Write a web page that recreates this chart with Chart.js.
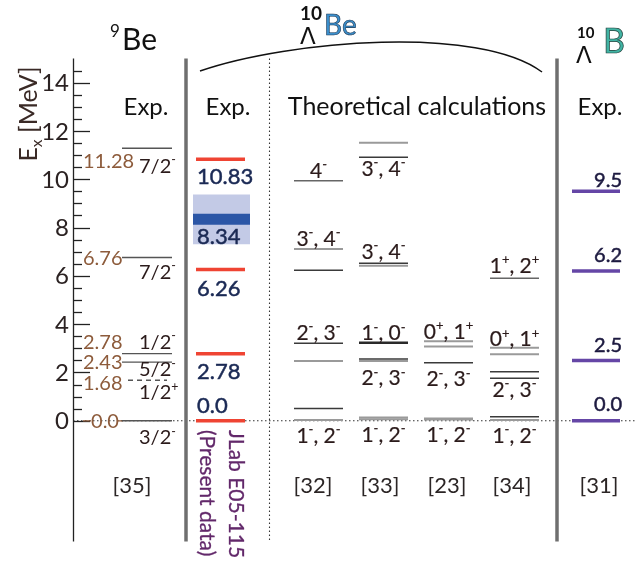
<!DOCTYPE html>
<html>
<head>
<meta charset="utf-8">
<script src="https://cdn.jsdelivr.net/npm/chart.js@4"></script>
<style>
  html, body { margin: 0; padding: 0; background: #fff; }
  canvas { display: block; }
</style>
</head>
<body>
<canvas id="levels" width="636" height="579"></canvas>
<script>
// ---------- data (excitation energies in MeV) ----------
// 9Be experiment [35]
const be9Energies = [0.0, 1.68, 2.43, 2.78, 6.76, 11.28];
const be9EnergyText = ['0.0', '1.68', '2.43', '2.78', '6.76', '11.28'];
const be9Spins = ['3/2^-', '1/2^+', '5/2^-', '1/2^-', '7/2^-', '7/2^-'];

// 10ΛBe, JLab E05-115 (present data)
const jlabEnergies = [0.0, 2.78, 6.26, 10.83];
const jlabText = ['0.0', '2.78', '6.26', '10.83'];
const jlabBroadPeak = [8.34];
const jlabBroadRange = [7.31, 9.37];

// 10ΛBe theoretical calculations
const theoryRefs = ['[32]', '[33]', '[23]', '[34]'];
const theoryEnergies = [
  [0.03, 0.51, 2.48, 3.21, 6.23, 7.11, 9.94],
  [0.06, 0.14, 2.48, 2.56, 3.23, 6.42, 6.52, 10.91, 11.51],
  [0.07, 2.40, 3.08, 3.29],
  [0.03, 0.17, 1.76, 2.03, 2.75, 3.02, 5.90]
];
const theoryLabelText = [
  ['1^-, 2^-', '2^-, 3^-', '3^-, 4^-', '4^-'],
  ['1^-, 2^-', '2^-, 3^-', '1^-, 0^-', '3^-, 4^-', '3^-, 4^-'],
  ['1^-, 2^-', '2^-, 3^-', '0^+, 1^+'],
  ['1^-, 2^-', '2^-, 3^-', '0^+, 1^+', '1^+, 2^+']
];
const theoryLabelAt = [
  [0.03, 3.21, 7.11, 9.94],
  [0.06, 2.48, 3.23, 6.52, 10.91],
  [0.07, 2.40, 3.29],
  [0.03, 1.76, 3.02, 5.90]
];

// 10ΛB experiment [31]
const b10Energies = [0.0, 2.5, 6.2, 9.5];
const b10Text = ['0.0', '2.5', '6.2', '9.5'];

// energy axis
const axisTicks = [0, 2, 4, 6, 8, 10, 12, 14];

// ---------- layout / style ----------
const span = {
  be9: [122, 172], jlab: [196, 245], band: [193, 250], b10: [572, 620],
  theory: [[294, 343], [359, 408], [424, 473], [490, 539]]
};
const theoryTone = [
  ['g', 'd', 'g', 'd', 'd', 'g', 'm'],
  ['g', 'g', 'g', 'd', 'D', 'g', 'd', 'd', 'g'],
  ['G', 'd', 'g', 'g'],
  ['g', 'd', 'd', 'd', 'g', 'g', 'm']
];
const toneStyle = {
  d: ['#3a3a3a', 1.4], D: ['#2a2a2a', 2.4], g: ['#9a9a9a', 2], G: ['#9a9a9a', 3], m: ['#666', 1.6]
};
const theoryLabelDy = [
  [15, -11, -11, -10],
  [15, 17, -10, -12, 11],
  [15, 16, -10],
  [15, 11, -9, -13]
];
const be9ValueDy = [0, 3, 0, -12, 0, 12];
const be9SpinDy = [16, 12, 7, -12, 14, 17];
const jlabDy = [-16, 17, 19, 17];
const b10Dy = [-17, -16, -16, -12];
const refX = [132, 313, 380, 447, 512, 599];

const FONT = 'Lato, "Noto Sans", sans-serif';
const GREEK = '"DejaVu Sans", "Noto Sans", sans-serif';
const font = (s, w) => `${w || 'normal'} ${s}px ${FONT}`;

function levelSet(e, sp, color, width, dash) {
  return {
    data: [{ x: sp[0], y: e }, { x: sp[1], y: e }],
    borderColor: color, borderWidth: width, borderDash: dash || [],
    pointRadius: 0, fill: false, tension: 0, order: 1
  };
}

const datasets = [];
be9Energies.forEach(e => {
  datasets.push(levelSet(e, e === 1.68 ? [128, 167] : span.be9, '#555', 1.4, e === 1.68 ? [5, 4] : []));
});
datasets.push({
  data: [{ x: span.band[0], y: jlabBroadRange[1] }, { x: span.band[1], y: jlabBroadRange[1] }],
  fill: { value: jlabBroadRange[0] }, backgroundColor: '#c3cae6',
  borderWidth: 0, pointRadius: 0, order: 5
});
jlabBroadPeak.forEach(e => datasets.push(levelSet(e, span.band, '#2b56a6', 11)));
jlabEnergies.forEach(e => datasets.push(levelSet(e, span.jlab, '#ef4433', 3.5)));
theoryEnergies.forEach((col, c) => {
  col.forEach((e, i) => {
    const st = toneStyle[theoryTone[c][i]];
    datasets.push(levelSet(e, span.theory[c], st[0], st[1]));
  });
});
b10Energies.forEach(e => datasets.push(levelSet(e, span.b10, '#6546a6', 3.5)));

// text with ^superscript / _subscript single characters
function drawRich(ctx, str, x, yc, size, align, color, stroke) {
  const pieces = [];
  for (let i = 0; i < str.length; i++) {
    const c = str[i];
    if ((c === '^' || c === '_') && i + 1 < str.length) {
      pieces.push({ t: str[i + 1], k: c }); i++;
    } else if (pieces.length && !pieces[pieces.length - 1].k) {
      pieces[pieces.length - 1].t += c;
    } else {
      pieces.push({ t: c, k: null });
    }
  }
  const small = size * 0.62;
  let w = 0;
  pieces.forEach(p => { ctx.font = font(p.k ? small : size); p.w = ctx.measureText(p.t).width; w += p.w; });
  let cx = align === 'center' ? x - w / 2 : align === 'right' ? x - w : x;
  const base = yc + size * 0.36;
  ctx.fillStyle = color;
  ctx.strokeStyle = color;
  ctx.lineWidth = stroke || 0;
  ctx.textAlign = 'left';
  ctx.textBaseline = 'alphabetic';
  pieces.forEach(p => {
    ctx.font = font(p.k ? small : size);
    const dy = p.k === '^' ? -size * 0.42 : p.k === '_' ? size * 0.2 : 0;
    ctx.fillText(p.t, cx, base + dy);
    if (stroke) ctx.strokeText(p.t, cx, base + dy);
    cx += p.w;
  });
}

const schemePlugin = {
  id: 'scheme',
  beforeDatasetsDraw(chart) {
    const ctx = chart.ctx, y = chart.scales.y;
    const y0 = y.getPixelForValue(0), yTop = y.getPixelForValue(15), yBot = y.getPixelForValue(-5);
    ctx.save();
    // zero line
    ctx.strokeStyle = '#333'; ctx.lineWidth = 1.1; ctx.setLineDash([1.5, 2.5]);
    ctx.beginPath(); ctx.moveTo(73, y0); ctx.lineTo(636, y0); ctx.stroke();
    // dotted divider between experiment and theory
    ctx.beginPath(); ctx.moveTo(269.5, yTop); ctx.lineTo(269.5, yBot); ctx.stroke();
    ctx.setLineDash([]);
    // solid separators
    ctx.strokeStyle = '#6f6f6f'; ctx.lineWidth = 3.5;
    [186, 557].forEach(x => { ctx.beginPath(); ctx.moveTo(x, yTop); ctx.lineTo(x, yBot); ctx.stroke(); });
    // energy axis
    ctx.strokeStyle = '#222'; ctx.lineWidth = 1.3;
    ctx.beginPath(); ctx.moveTo(73.5, yTop); ctx.lineTo(73.5, yBot); ctx.stroke();
    for (let v = 0; v <= 14.5; v += 0.5) {
      const py = Math.round(y.getPixelForValue(v)) + 0.5;
      ctx.beginPath(); ctx.moveTo(73.5, py); ctx.lineTo(v % 2 === 0 ? 90 : 82, py); ctx.stroke();
    }
    // arc over the 10ΛBe columns
    ctx.strokeStyle = '#111'; ctx.lineWidth = 1.5;
    ctx.beginPath(); ctx.moveTo(200, 71); ctx.bezierCurveTo(290, 40, 480, 25, 542, 72); ctx.stroke();
    // brown ticks around 0.0
    ctx.strokeStyle = '#8d5b3b'; ctx.lineWidth = 1.3;
    ctx.beginPath(); ctx.moveTo(83, y0); ctx.lineTo(91, y0); ctx.moveTo(118, y0); ctx.lineTo(123, y0); ctx.stroke();
    ctx.restore();
  },
  afterDatasetsDraw(chart) {
    const ctx = chart.ctx, y = chart.scales.y;
    const py = v => y.getPixelForValue(v);
    ctx.save();
    // axis tick labels
    axisTicks.forEach(t => drawRich(ctx, String(t), 69, py(t), 24, 'right', '#2b2222'));
    // axis title
    ctx.save(); ctx.translate(28, 114); ctx.rotate(-Math.PI / 2);
    drawRich(ctx, 'E_x [MeV]', 0, 0, 25, 'center', '#3a2a26');
    ctx.restore();

    // titles
    ctx.fillStyle = '#111'; ctx.textAlign = 'left'; ctx.textBaseline = 'alphabetic';
    ctx.font = font(17); ctx.fillText('9', 110, 37);
    ctx.font = font(30); ctx.fillText('Be', 122, 50);
    ctx.font = font(19, 'bold'); ctx.fillText('10', 300, 20);
    ctx.font = `normal 23px ${GREEK}`; ctx.fillText('\u039B', 300, 44);
    ctx.font = font(28); ctx.fillStyle = '#3b8fcc'; ctx.fillText('Be', 324, 35);
    ctx.strokeStyle = '#1b3550'; ctx.lineWidth = 0.6; ctx.strokeText('Be', 324, 35);
    ctx.fillStyle = '#111'; ctx.font = font(15, 'bold'); ctx.fillText('10', 577, 38);
    ctx.font = `normal 23px ${GREEK}`; ctx.fillText('\u039B', 576, 63);
    ctx.font = font(34); ctx.fillStyle = '#41b3a3'; ctx.fillText('B', 603, 53);
    ctx.strokeStyle = '#1b3a35'; ctx.lineWidth = 0.7; ctx.strokeText('B', 603, 53);

    // column headers
    ctx.fillStyle = '#111'; ctx.font = font(24); ctx.textAlign = 'center';
    ctx.fillText('Exp.', 146, 115);
    ctx.fillText('Exp.', 228, 115);
    ctx.fillText('Exp.', 600, 115);
    ctx.font = font(25);
    ctx.fillText('Theoretical calculations', 417, 115);

    // 9Be labels
    be9Energies.forEach((e, i) => {
      if (e === 0) drawRich(ctx, be9EnergyText[i], 105, py(e), 20, 'center', '#8d5b3b');
      else drawRich(ctx, be9EnergyText[i], 83, py(e) + be9ValueDy[i], 20, 'left', '#8d5b3b');
      drawRich(ctx, be9Spins[i], 139, py(e) + be9SpinDy[i], 20, 'left', '#2b1b1b');
    });

    // JLab labels
    jlabEnergies.forEach((e, i) => drawRich(ctx, jlabText[i], 197, py(e) + jlabDy[i], 22, 'left', '#1b2a55', 0.5));
    jlabBroadPeak.forEach(e => drawRich(ctx, e.toFixed(2), 197, py(e) + 17, 22, 'left', '#1b2a55', 0.5));

    // theory labels
    theoryLabelText.forEach((col, c) => {
      const xc = (span.theory[c][0] + span.theory[c][1]) / 2;
      col.forEach((t, i) => drawRich(ctx, t, xc, py(theoryLabelAt[c][i]) + theoryLabelDy[c][i], 21, 'center', '#2b1b1b', 0.2));
    });

    // 10ΛB labels
    b10Energies.forEach((e, i) => drawRich(ctx, b10Text[i], 622, py(e) + b10Dy[i], 20, 'right', '#1d1a40', 0.5));

    // references
    ['[35]', ...theoryRefs, '[31]'].forEach((r, i) => drawRich(ctx, r, refX[i], 485, 22, 'center', '#2b2525'));

    // vertical data-source caption
    ctx.save(); ctx.translate(0, 430); ctx.rotate(Math.PI / 2);
    drawRich(ctx, 'JLab E05-115', 0, -237, 21, 'left', '#62286a', 0.3);
    drawRich(ctx, '(Present data)', 0, -208, 21, 'left', '#62286a', 0.3);
    ctx.restore();
    ctx.restore();
  }
};

new Chart(document.getElementById('levels'), {
  type: 'line',
  data: { datasets },
  options: {
    responsive: false,
    animation: false,
    devicePixelRatio: 1,
    events: [],
    layout: { padding: 0 },
    plugins: { legend: { display: false }, tooltip: { enabled: false } },
    scales: {
      x: { type: 'linear', min: 0, max: 636, display: false },
      y: { type: 'linear', min: -6.55, max: 17.42, display: false }
    }
  },
  plugins: [schemePlugin]
});
</script>
</body>
</html>
